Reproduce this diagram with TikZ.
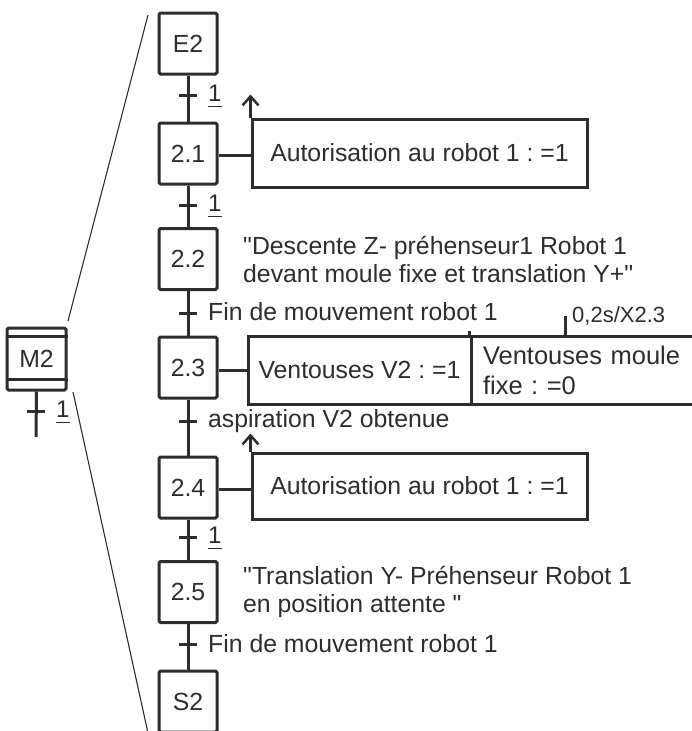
\documentclass[tikz,border=0pt]{standalone}
\usepackage{fontspec}
\setmainfont{Liberation Sans}
\usetikzlibrary{arrows.meta,calc}
\definecolor{ink}{RGB}{45,45,48}
\newcommand\ulnum[1]{\underline{\raisebox{0pt}[\height][3pt]{#1}}}
\frenchspacing
\begin{document}
\begin{tikzpicture}[x=1pt,y=-1pt,
  every node/.style={text=ink},
  bigfont/.style={font=\fontsize{24.8}{28}\selectfont},
  smallfont/.style={font=\fontsize{22}{26}\selectfont},
  stepbox/.style={draw=ink,line width=3pt,rounded corners=1.5pt,minimum width=58pt,minimum height=61pt,inner sep=0pt,bigfont},
  actbox/.style={draw=ink,line width=3pt,inner sep=0pt,bigfont},
  link/.style={draw=ink,line width=3pt},
  tickmark/.style={draw=ink,line width=3pt},
  thinline/.style={draw=ink,line width=1.1pt},
  uparrow/.style={draw=ink,line width=2.5pt,-{Straight Barb[length=9pt,width=16pt,line width=2.5pt]}},
  cond/.style={anchor=west,inner sep=0pt,bigfont},
  num/.style={anchor=west,inner sep=0pt,font=\fontsize{24}{28}\selectfont},
  note/.style={anchor=west,inner sep=0pt,align=left,bigfont}]
\useasboundingbox (0,0) rectangle (692,731);

% macro-step M2
\node[stepbox,minimum width=59pt,minimum height=62pt] (m2) at (36.5,359) {M2};
\draw[thinline,line width=2.5pt] ($(m2.north west)+(0,10)$) -- ($(m2.north east)+(0,10)$);
\draw[thinline,line width=2.5pt] ($(m2.south west)+(0,-12)$) -- ($(m2.south east)+(0,-12)$);
\coordinate (m2end) at (36,437);
\coordinate (m2t) at (36,411);
\draw[link] (m2.south) -- (m2end);
\draw[tickmark] ($(m2t)+(-9,0)$) -- ($(m2t)+(9,0)$);
\node[num] (m2l) at (56,412) {\ulnum{1}};

% expansion lines
\coordinate (d1a) at (68,321);
\coordinate (d1b) at (148,15);
\coordinate (d2a) at (73,392);
\coordinate (d2b) at (148,733);
\draw[thinline] (d1a) -- (d1b);
\draw[thinline] (d2a) -- (d2b);

% steps
\node[stepbox] (e2)  at (188,43.5) {E2};
\node[stepbox] (s21) at (188,153.5) {2.1};
\node[stepbox] (s22) at (188,259) {2.2};
\node[stepbox] (s23) at (188,367.5) {2.3};
\node[stepbox] (s24) at (188,487.5) {2.4};
\node[stepbox] (s25) at (188,592) {2.5};
\node[stepbox] (s2)  at (188,701.5) {S2};

\draw[link] (e2) -- (s21);
\draw[link] (s21) -- (s22);
\draw[link] (s22) -- (s23);
\draw[link] (s23) -- (s24);
\draw[link] (s24) -- (s25);
\draw[link] (s25) -- (s2);

% transitions
\coordinate (t1) at (188,95);
\coordinate (t2) at (188,205);
\coordinate (t3) at (188,313);
\coordinate (t4) at (188,421);
\coordinate (t5) at (188,537);
\coordinate (t6) at (188,644);
\foreach \t in {t1,t2,t3,t4,t5,t6}
  \draw[tickmark] ($(\t)+(-9,0)$) -- ($(\t)+(9,0)$);

\node[num] (c1) at (208,96) {\ulnum{1}};
\node[num] (c2) at (208,206) {\ulnum{1}};
\node[cond] (c3) at (208,312) {Fin de mouvement robot 1};
\node[cond] (c4) at (208,421) {aspiration V2 obtenue};
\node[num] (c5) at (208,538) {\ulnum{1}};
\node[cond] (c6) at (208,644) {Fin de mouvement robot 1};

% actions
\node[actbox,minimum width=335pt,minimum height=68pt] (a21) at (419.5,153) {Autorisation au robot 1 : =1};
\draw[link] (s21.east |- 0,155) -- (a21.west |- 0,155);
\draw[uparrow] (a21.north west) -- ++(0,-23);

\node[note] (n22) at (243,259) {\textquotedbl Descente Z- préhenseur1 Robot 1\\devant moule fixe et translation Y+\textquotedbl};

\node[actbox,minimum width=223pt,minimum height=68pt] (a23a) at (359.5,370) {Ventouses V2 : =1};
\node[actbox,minimum width=289pt,minimum height=68pt,text width=265pt,align=left,inner xsep=12pt,font=\fontsize{25.5}{30}\selectfont] (a23b) at (615.5,370) {Ventouses moule\\fixe : =0};
\draw[link] (s23.east |- 0,370) -- (a23a.west |- 0,370);
\draw[link,line width=2.5pt] (a23b.north west) -- ++(0,-4);
\coordinate (tm) at (565,336);
\draw[link,line width=3pt] (tm) -- ++(0,-20);
\node[num,anchor=west,font=\fontsize{22}{26}\selectfont] (tml) at (572,316) {0,2s/X2.3};

\node[actbox,minimum width=335pt,minimum height=66pt] (a24) at (419.5,486) {Autorisation au robot 1 : =1};
\draw[link] (s24.east |- 0,489) -- (a24.west |- 0,489);
\draw[uparrow] (a24.north west) -- ++(0,-18);

\node[note] (n25) at (243,592) {\textquotedbl Translation Y- Préhenseur Robot 1\\en position attente \textquotedbl};
\end{tikzpicture}
\end{document}
